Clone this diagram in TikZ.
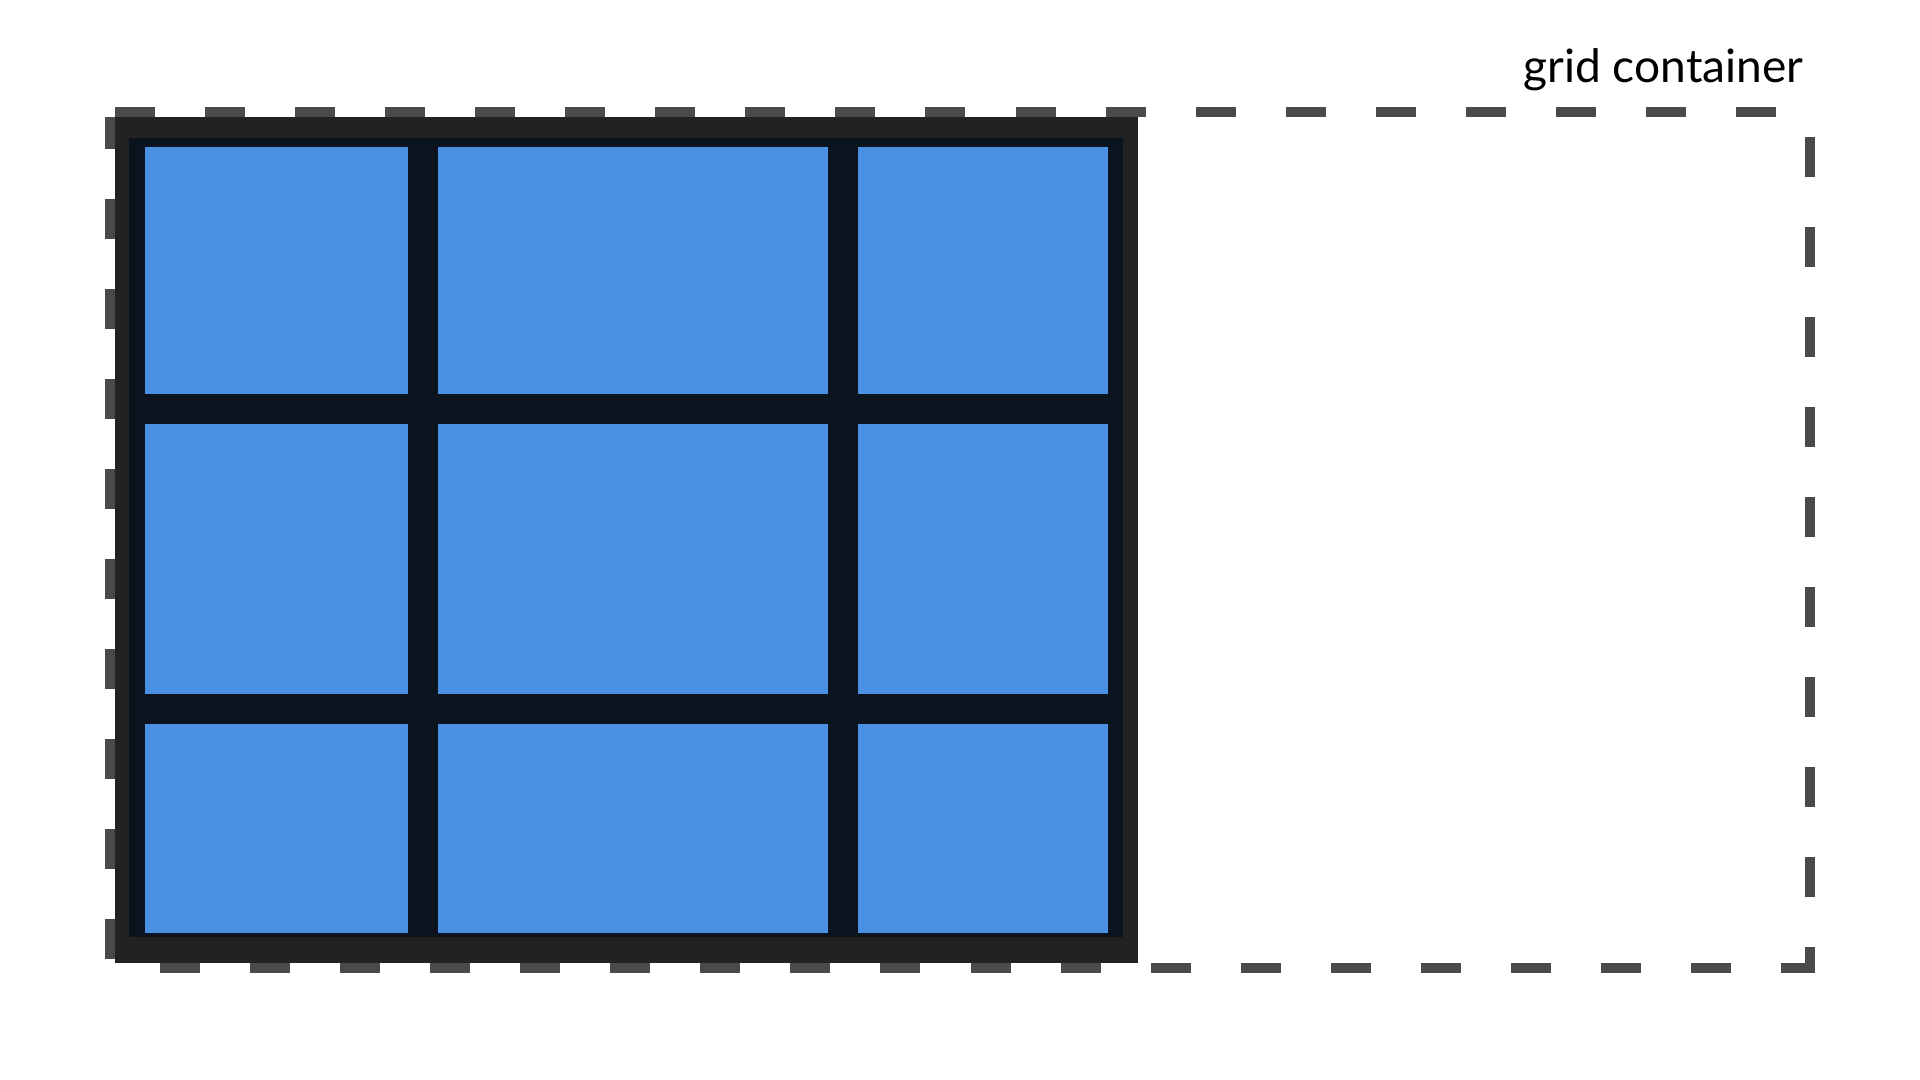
\documentclass[tikz,border=0pt]{standalone}
\usepackage{fontspec}
\setmainfont{Lato}
\usepackage{tikz}

\definecolor{cellblue}{HTML}{4A90E2}
\definecolor{framedark}{HTML}{222222}
\definecolor{gridnavy}{HTML}{0B141E}
\definecolor{dashgrey}{HTML}{4A4A4A}

\begin{document}
\begin{tikzpicture}[x=0.01cm,y=-0.01cm,
    cell/.style={rectangle,fill=cellblue,inner sep=0pt,outer sep=0pt},
    slab/.style={rectangle,inner sep=0pt,outer sep=0pt},
    side/.style={draw=dashgrey,line width=0.1cm,dash pattern=on 0.4cm off 0.5cm}]
    \useasboundingbox (0,0) rectangle (1920,1080);
    % container outline
    \coordinate (TL) at (110,112);
    \coordinate (TR) at (1810,112);
    \coordinate (TRb) at (1810,973);
    \coordinate (BRr) at (1815,968);
    \coordinate (BL) at (115,968);
    \coordinate (TLl) at (110,117);
    \coordinate (BLl) at (110,968);
    \path[side,dash phase=0.85cm] (TL) -- (TR);
    \path[side,dash phase=0.65cm] (TR) -- (TRb);
    \path[side,dash phase=0.06cm] (BRr) -- (BL);
    \path[side,dash phase=0.08cm] (TLl) -- (BLl);
    % grid
    \node[slab,fill=framedark,minimum width=10.23cm,minimum height=8.46cm] (frame) at (626.5,540) {};
    \node[slab,fill=gridnavy,minimum width=9.94cm,minimum height=7.99cm] (grid) at (626,537.5) {};
    \node[cell,minimum width=2.63cm,minimum height=2.47cm] (A1) at (276.5,270.5) {};
    \node[cell,minimum width=3.90cm,minimum height=2.47cm] (A2) at (633,270.5) {};
    \node[cell,minimum width=2.50cm,minimum height=2.47cm] (A3) at (983,270.5) {};
    \node[cell,minimum width=2.63cm,minimum height=2.70cm] (B1) at (276.5,559) {};
    \node[cell,minimum width=3.90cm,minimum height=2.70cm] (B2) at (633,559) {};
    \node[cell,minimum width=2.50cm,minimum height=2.70cm] (B3) at (983,559) {};
    \node[cell,minimum width=2.63cm,minimum height=2.09cm] (C1) at (276.5,828.5) {};
    \node[cell,minimum width=3.90cm,minimum height=2.09cm] (C2) at (633,828.5) {};
    \node[cell,minimum width=2.50cm,minimum height=2.09cm] (C3) at (983,828.5) {};
    \node[anchor=base east,inner sep=0pt,font=\fontsize{13.1pt}{16pt}\selectfont] (title) at (1804,83) {grid container};
\end{tikzpicture}
\end{document}
